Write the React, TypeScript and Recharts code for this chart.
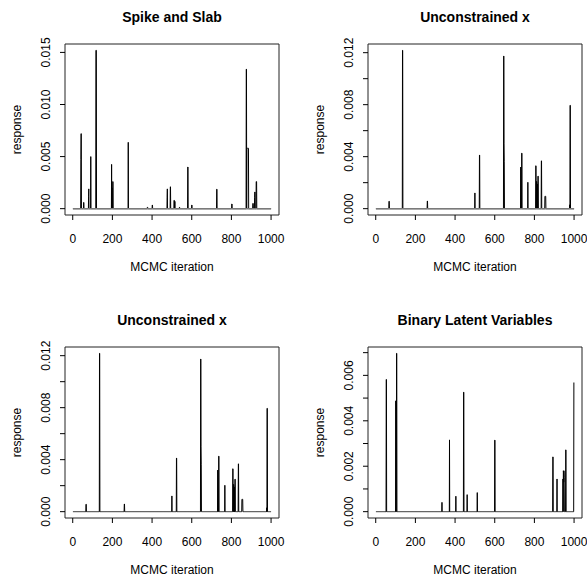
import { LineChart, Line, XAxis, YAxis, ReferenceArea, ReferenceLine } from "recharts"

// MCMC trace values: [iteration, response], every other iteration sits at 0
const N_ITER = 1000

const spikeAndSlab: [number, number][] = [
  [41, 0.0047], [42, 0.0072], [43, 0.0072], [55, 0.0006], [56, 0.0006],
  [80, 0.0012], [81, 0.0019], [91, 0.005], [117, 0.0152], [118, 0.0152], [119, 0.0152],
  [196, 0.00425], [198, 0.002], [202, 0.0026], [203, 0.0026], [280, 0.00637],
  [376, 0.00013], [377, 0.00013], [378, 0.00013], [401, 0.00035], [402, 0.00035],
  [476, 0.0011], [477, 0.0019], [492, 0.0021], [493, 0.0021],
  [511, 0.0008], [512, 0.0008], [515, 0.0007], [538, 0.00013], [539, 0.00013],
  [580, 0.004], [581, 0.004], [600, 0.00035], [601, 0.00035],
  [726, 0.00187], [727, 0.00187], [802, 0.00045], [803, 0.00045],
  [875, 0.01339], [876, 0.01339], [878, 0.0058], [879, 0.0058], [880, 0.0058], [881, 0.0058],
  [882, 0.0058], [883, 0.0058], [884, 0.0058], [885, 0.0058], [886, 0.0058],
  [908, 0.0005], [909, 0.0005], [910, 0.0005], [917, 0.0011], [918, 0.0016], [919, 0.0016],
  [925, 0.0026], [926, 0.0026], [927, 0.0026],
]

const unconstrainedX: [number, number][] = [
  [67, 0.00057], [68, 0.00057], [135, 0.01218], [136, 0.01218], [260, 0.00059], [261, 0.00059],
  [500, 0.00121], [523, 0.00412], [524, 0.00412],
  [645, 0.01174], [646, 0.01174], [647, 0.00504], [648, 0.0036],
  [731, 0.0032], [736, 0.00427], [737, 0.00427], [767, 0.00203],
  [807, 0.0033], [808, 0.0033], [811, 0.0021], [812, 0.002], [815, 0.0019], [818, 0.0025], [819, 0.0025],
  [835, 0.00368], [836, 0.00368], [853, 0.00095], [854, 0.00095], [855, 0.00095], [856, 0.00095], [857, 0.00095],
  [978, 0.0003], [980, 0.00795], [981, 0.00795],
]

const binaryLatent: [number, number][] = [
  [53, 0.00582], [54, 0.00582], [101, 0.00488], [105, 0.00697], [106, 0.00697],
  [334, 0.00041], [372, 0.00316], [404, 0.00068], [443, 0.00526], [444, 0.00526],
  [461, 0.00075], [512, 0.00084], [600, 0.00315], [601, 0.00315],
  [893, 0.00241], [894, 0.00241], [914, 0.00144], [944, 0.00144],
  [946, 0.0018], [947, 0.0017], [948, 0.0013], [949, 0.0018], [950, 0.0015],
  [958, 0.00272], [959, 0.00272], [999, 0.00568], [1000, 0.00568],
]

const xTicks = [0, 200, 400, 600, 800, 1000]
const yTicksSlab = [0, 0.005, 0.01, 0.015]
const yTicksUnc = [0, 0.002, 0.004, 0.006, 0.008, 0.01, 0.012]
const yTicksBin = [0, 0.001, 0.002, 0.003, 0.004, 0.005, 0.006, 0.007]

const FONT = "'Liberation Sans', Arial, Helvetica, sans-serif"
const W = 303
const H = 303
const BOX = { left: 65, top: 44, width: 214, height: 171 }

function trace(spikes: [number, number][]) {
  const m = new Map(spikes)
  return Array.from({ length: N_ITER }, (_, i) => ({ iter: i + 1, value: m.get(i + 1) ?? 0 }))
}

function padded(lo: number, hi: number): [number, number] {
  const d = (hi - lo) * 0.04
  return [lo - d, hi + d]
}

type PanelProps = {
  title: string
  spikes: [number, number][]
  yTicks: number[]
  labelEvery: number
  greyBase: boolean
  left: number
  top: number
}

function Panel({ title, spikes, yTicks, labelEvery, greyBase, left, top }: PanelProps) {
  const data = trace(spikes)
  const vals = data.map((d) => d.value)
  const yDom = padded(Math.min(...vals), Math.max(...vals))
  const xDom = padded(1, N_ITER)

  const yTick = (p: any) => {
    if (p.index % labelEvery !== 0) return <g />
    return (
      <text
        x={p.x}
        y={p.y}
        transform={`rotate(-90 ${p.x} ${p.y})`}
        textAnchor="middle"
        fontSize={12}
        fontFamily={FONT}
        fill="#000"
      >
        {Number(p.payload.value).toFixed(3)}
      </text>
    )
  }

  const cy = BOX.top + BOX.height / 2
  const cx = BOX.left + BOX.width / 2

  return (
    <div style={{ position: "absolute", left, top, width: W, height: H }}>
      <div
        style={{
          position: "absolute",
          left: BOX.left,
          width: BOX.width,
          top: 8,
          lineHeight: "18px",
          textAlign: "center",
          fontFamily: FONT,
          fontWeight: "bold",
          fontSize: 14,
          color: "#000",
        }}
      >
        {title}
      </div>
      <LineChart width={W} height={H} data={data} margin={{ top: BOX.top, right: W - BOX.left - BOX.width, bottom: 0, left: 0 }}>
        <XAxis
          dataKey="iter"
          type="number"
          domain={xDom}
          ticks={xTicks}
          interval={0}
          allowDataOverflow
          height={H - BOX.top - BOX.height}
          axisLine={false}
          tickLine={{ stroke: "#000" }}
          tickSize={5}
          tickMargin={14}
          tick={{ fill: "#000", fontSize: 12, fontFamily: FONT }}
          label={() => (
            <text x={cx} y={271} textAnchor="middle" fontSize={12} fontFamily={FONT} fill="#000">
              MCMC iteration
            </text>
          )}
        />
        <YAxis
          type="number"
          domain={yDom}
          ticks={yTicks}
          interval={0}
          allowDataOverflow
          width={BOX.left}
          axisLine={false}
          tickLine={{ stroke: "#000" }}
          tickSize={5}
          tickMargin={10}
          tick={yTick}
          label={() => (
            <text
              x={21}
              y={cy}
              transform={`rotate(-90 21 ${cy})`}
              textAnchor="middle"
              fontSize={12}
              fontFamily={FONT}
              fill="#000"
            >
              response
            </text>
          )}
        />
        <Line
          type="linear"
          dataKey="value"
          stroke="#000"
          strokeWidth={1}
          dot={false}
          isAnimationActive={false}
        />
        {greyBase && (
          <ReferenceLine
            segment={[
              { x: 1, y: 0 },
              { x: N_ITER, y: 0 },
            ]}
            stroke="#7a7a7a"
            strokeWidth={1.5}
          />
        )}
        <ReferenceArea
          x1={xDom[0]}
          x2={xDom[1]}
          y1={yDom[0]}
          y2={yDom[1]}
          fill="none"
          fillOpacity={0}
          stroke="#222"
          strokeWidth={1}
          ifOverflow="visible"
        />
      </LineChart>
    </div>
  )
}

export default function App() {
  return (
    <div style={{ position: "absolute", left: 0, top: 0, width: 587, height: 580, overflow: "hidden", background: "#fff" }}>
      <Panel title="Spike and Slab" spikes={spikeAndSlab} yTicks={yTicksSlab} labelEvery={1} greyBase left={0} top={0} />
      <Panel title="Unconstrained x" spikes={unconstrainedX} yTicks={yTicksUnc} labelEvery={2} greyBase left={303} top={0} />
      <Panel title="Unconstrained x" spikes={unconstrainedX} yTicks={yTicksUnc} labelEvery={2} greyBase={false} left={0} top={303} />
      <Panel title="Binary Latent Variables" spikes={binaryLatent} yTicks={yTicksBin} labelEvery={2} greyBase={false} left={303} top={303} />
    </div>
  )
}
